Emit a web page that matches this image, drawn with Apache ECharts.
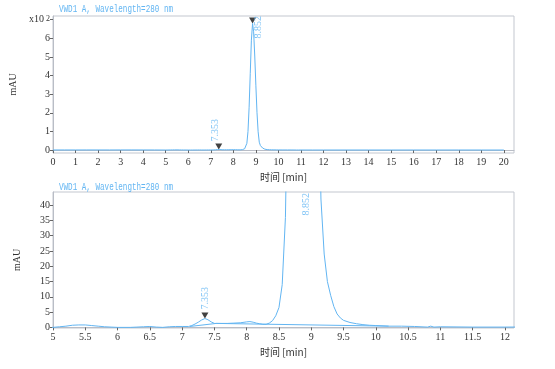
<!DOCTYPE html>
<html>
<head>
<meta charset="utf-8">
<script src="https://cdn.jsdelivr.net/npm/echarts@6/dist/echarts.min.js"></script>
<style>
html, body { margin: 0; padding: 0; background: #fff; }
#chart { width: 555px; height: 369px; }
</style>
</head>
<body>
<div id="chart"></div>
<script>
// 色谱图数据 (时间 min, 信号 mAU)
var timeMin = [0, 0.5, 1, 1.5, 2, 2.5, 3, 3.5, 4, 4.5,
    5, 5.1, 5.2, 5.3, 5.4, 5.5, 5.6, 5.7, 5.8, 5.9,
    6, 6.1, 6.2, 6.3, 6.4, 6.5, 6.6, 6.7, 6.8, 6.9,
    7, 7.1, 7.15, 7.2, 7.25, 7.3, 7.353, 7.4, 7.45, 7.5,
    7.6, 7.7, 7.8, 7.9, 8, 8.05, 8.1, 8.15, 8.2, 8.25,
    8.3, 8.35, 8.4, 8.45, 8.5, 8.55, 8.6, 8.65, 8.7, 8.75,
    8.8, 8.852, 8.9, 8.95, 9, 9.05, 9.1, 9.15, 9.2, 9.25,
    9.3, 9.35, 9.4, 9.45, 9.5, 9.6, 9.7, 9.8, 9.9, 10,
    10.2, 10.4, 10.6, 10.8, 10.85, 10.9, 11, 11.5, 12, 13,
    14, 15, 16, 17, 18, 19, 20];
var signalMAU = [0.3, 0.4, 0.3, 0.5, 0.4, 0.3, 0.5, 0.6, 0.4, 0.3,
    0.0, 0.2, 0.4, 0.7, 0.8, 0.8, 0.6, 0.4, 0.2, 0.1,
    0.0, 0.0, 0.0, 0.1, 0.2, 0.3, 0.1, 0.0, 0.2, 0.3,
    0.3, 0.3, 0.6, 1.1, 1.7, 2.4, 2.9, 2.5, 1.8, 1.3,
    1.3, 1.3, 1.4, 1.5, 1.8, 1.9, 1.7, 1.4, 1.2, 1.0,
    1.0, 1.4, 2.2, 3.8, 6.5, 14, 36, 100, 230, 410,
    590, 680, 635, 505, 345, 200, 98, 42, 24, 15,
    10.5, 6.8, 4.4, 3.1, 2.3, 1.6, 1.2, 0.9, 0.7, 0.6,
    0.4, 0.4, 0.3, 0.1, 0.4, 0.1, 0.2, 0.1, 0.1, 0.2,
    0.2, 0.1, 0.2, 0.1, 0.2, 0.1, 0.1];

// 积分基线
var baseTime = [7.12, 7.53, 10.2];
var baseMAU = [0.3, 1.3, 0.4];

// 峰
var peakTime = [7.353, 8.852];
var peakMAU = [2.9, 680];
var peakLabel = ['7.353', '8.852'];

// 刻度
var topXTicks = [0,1,2,3,4,5,6,7,8,9,10,11,12,13,14,15,16,17,18,19,20];
var topYTicks = [0, 100, 200, 300, 400, 500, 600, 700];
var botXTicks = [5, 5.5, 6, 6.5, 7, 7.5, 8, 8.5, 9, 9.5, 10, 10.5, 11, 11.5, 12];
var botYTicks = [0, 5, 10, 15, 20, 25, 30, 35, 40];

var titleText = 'VWD1 A, Wavelength=280 nm';

var lineColor = '#62b5f2';
var labelFont = 'Liberation Serif';

var trace = timeMin.map(function (t, i) { return [t, signalMAU[i]]; });
var baseline = baseTime.map(function (t, i) { return [t, baseMAU[i]]; });

function xAxisCfg(idx, min, max, ticks) {
    return {
        type: 'value', gridIndex: idx, min: min, max: max,
        name: '时间 [min]', nameLocation: 'middle', nameGap: 19,
        nameTextStyle: { color: '#333', fontSize: 10, fontFamily: 'Noto Sans CJK SC' },
        axisLine: { show: true, lineStyle: { color: '#b9bdc6' } },
        axisTick: { show: true, length: 3, customValues: ticks, lineStyle: { color: '#666' } },
        axisLabel: { customValues: ticks, color: '#333', fontSize: 10, fontFamily: labelFont, margin: 4 },
        splitLine: { show: false }
    };
}
function yAxisCfg(idx, min, max, ticks, fmt) {
    return {
        type: 'value', gridIndex: idx, min: min, max: max,
        name: 'mAU', nameLocation: 'middle', nameGap: 31,
        nameTextStyle: { color: '#333', fontSize: 10, fontFamily: labelFont },
        axisLine: { show: true, lineStyle: { color: '#b9bdc6' } },
        axisTick: { show: true, length: 3, customValues: ticks, lineStyle: { color: '#666' } },
        axisLabel: {
            customValues: ticks, color: '#333', fontSize: 10, fontFamily: labelFont, margin: 3, formatter: fmt,
            rich: {
                base: { fontSize: 10, fontFamily: labelFont, color: '#333', verticalAlign: 'bottom' },
                sup: { fontSize: 8, fontFamily: labelFont, color: '#333', verticalAlign: 'top', padding: [0, 0, 0, 2] }
            }
        },
        splitLine: { show: false }
    };
}

var myChart = echarts.init(document.getElementById('chart'));
myChart.setOption({
    backgroundColor: '#fff',
    animation: false,
    grid: [
        { left: 53, right: 41, top: 16, height: 137, show: true, backgroundColor: '#fff', borderColor: '#c3c7cf', borderWidth: 1 },
        { left: 53, right: 41, top: 192, height: 136, show: true, backgroundColor: '#fff', borderColor: '#c3c7cf', borderWidth: 1 }
    ],
    xAxis: [
        xAxisCfg(0, 0, 20.45, topXTicks),
        xAxisCfg(1, 5, 12.14, botXTicks)
    ],
    yAxis: [
        // 最上面的刻度显示 x10²
        yAxisCfg(0, -16, 720, topYTicks, function (v) {
            return v === 700 ? '{base|x10}{sup|2}' : String(v / 100);
        }),
        yAxisCfg(1, -0.2, 44.3, botYTicks, function (v) { return String(v); })
    ],
    graphic: [
        { type: 'text', left: 59, top: 4, scaleX: 0.76, style: { text: titleText, fill: lineColor, font: '10px "Liberation Mono"' } },
        { type: 'text', left: 59, top: 182, scaleX: 0.76, style: { text: titleText, fill: lineColor, font: '10px "Liberation Mono"' } }
    ],
    series: [
        {
            name: 'trace-top', type: 'line', xAxisIndex: 0, yAxisIndex: 0,
            data: trace, showSymbol: false, symbol: 'none',
            lineStyle: { color: lineColor, width: 1 }, clip: true
        },
        {
            name: 'trace-bottom', type: 'line', xAxisIndex: 1, yAxisIndex: 1,
            data: trace, showSymbol: false, symbol: 'none',
            lineStyle: { color: lineColor, width: 1 }, clip: true
        },
        {
            name: 'baseline', type: 'line', xAxisIndex: 1, yAxisIndex: 1,
            data: baseline, showSymbol: false, symbol: 'none',
            lineStyle: { color: lineColor, width: 1 }, clip: true
        },
        {
            name: 'peaks-top', type: 'scatter', xAxisIndex: 0, yAxisIndex: 0,
            symbol: 'triangle', symbolRotate: 180, symbolSize: [7, 6], symbolOffset: [0, -3],
            itemStyle: { color: '#111' },
            data: [
                { value: [peakTime[0], peakMAU[0]], name: peakLabel[0],
                  label: { show: true, position: 'top', distance: 2, rotate: 90, align: 'left', verticalAlign: 'middle', offset: [0, -3] } },
                { value: [peakTime[1], peakMAU[1]], name: peakLabel[1],
                  label: { show: true, position: 'inside', rotate: 90, align: 'left', verticalAlign: 'middle', offset: [-18, 5.5] } }
            ],
            label: { formatter: '{b}', color: lineColor, fontSize: 10, fontFamily: labelFont },
            clip: false
        },
        {
            name: 'peaks-bottom', type: 'scatter', xAxisIndex: 1, yAxisIndex: 1,
            symbol: 'triangle', symbolRotate: 180, symbolSize: [7, 6], symbolOffset: [0, -3],
            itemStyle: { color: '#111' },
            data: [
                { value: [peakTime[0], peakMAU[0]], name: peakLabel[0],
                  label: { show: true, position: 'top', distance: 3, rotate: 90, align: 'left', verticalAlign: 'middle' } }
            ],
            label: { formatter: '{b}', color: lineColor, fontSize: 10, fontFamily: labelFont },
            clip: false
        },
        {
            // 主峰超出下图范围, 标签贴在顶部
            name: 'peak-main-label', type: 'scatter', xAxisIndex: 1, yAxisIndex: 1,
            symbol: 'circle', symbolSize: 1, itemStyle: { color: 'rgba(0,0,0,0)' },
            data: [
                { value: [peakTime[1] + 0.08, 44.3], name: peakLabel[1] }
            ],
            label: { show: true, position: 'inside', rotate: 90, align: 'right', verticalAlign: 'middle',
                     offset: [-1, 0], formatter: '{b}', color: lineColor, fontSize: 10, fontFamily: labelFont },
            clip: false
        }
    ]
});
</script>
</body>
</html>
